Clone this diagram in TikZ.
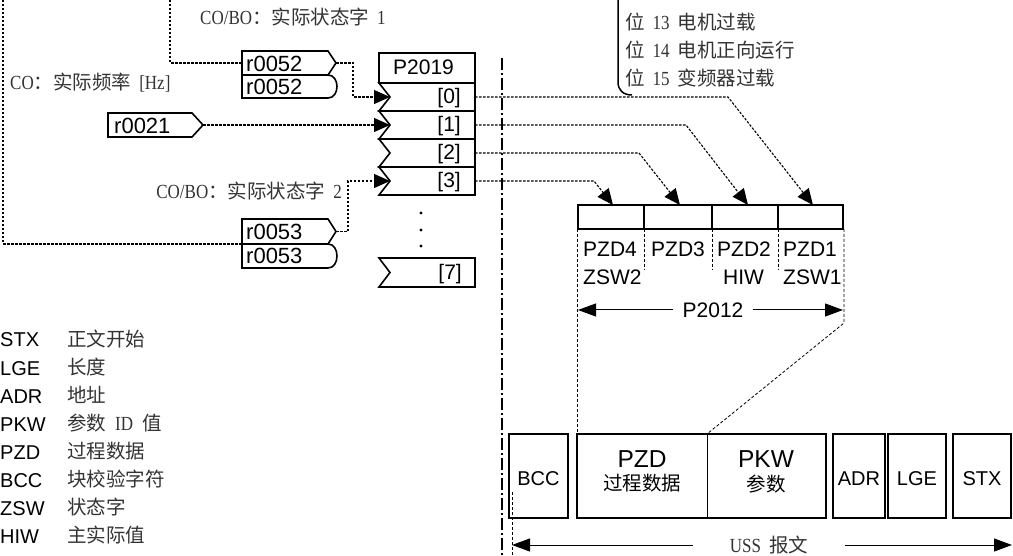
\documentclass[tikz,border=0pt]{standalone}
\usepackage{fontspec}
\setmainfont{Liberation Sans}
\newfontfamily\cjk{Noto Sans CJK SC}
\newfontfamily\serf{Liberation Serif}[FakeStretch=0.85]
\usetikzlibrary{arrows.meta}
\newcommand\lat[1]{{\serf\fontsize{20}{20}\selectfont #1}}
\begin{document}
\begin{tikzpicture}[x=1pt,y=-1pt,
  bx/.style={line width=1.6pt},
  conn/.style={line width=1.1pt, dash pattern=on 2.5pt off 1.5pt},
  thinline/.style={line width=0.8pt, dash pattern=on 3pt off 2pt},
  tipA/.style={-{Triangle[length=16pt,width=14pt]}},
  dimA/.style={line width=1pt,-{Triangle[length=18pt,width=13pt]}},
  lbl/.style={inner sep=0pt, font=\fontsize{21}{21}\selectfont},
  rlbl/.style={inner sep=0pt, font=\fontsize{22}{22}\selectfont},
  leg/.style={inner sep=0pt, font=\fontsize{20}{20}\selectfont},
  big/.style={inner sep=0pt, font=\fontsize{24.5}{25}\selectfont},
  zh/.style={inner sep=0pt, text=black!80, font=\fontsize{19.5}{20}\selectfont\cjk},
]
\useasboundingbox (0,0) rectangle (1013,556);

% ---------- dash-dot separator ----------
\coordinate (sepT) at (502,58);
\coordinate (sepB) at (502,556);
\draw[line width=1.2pt, dash pattern=on 12pt off 3pt on 2pt off 3pt] (sepT) -- (sepB);

% ---------- top labels ----------
\node[zh, anchor=base west] (lab1) at (200,25) {\lat{CO/BO}：实际状态字\hspace{8pt}\lat{1}};
\node[zh, anchor=base west] (lab0) at (10,90) {\lat{CO}：实际频率\hspace{8pt}\lat{[Hz]}};
\node[zh, anchor=base east] (lab2) at (342,199) {\lat{CO/BO}：实际状态字\hspace{8pt}\lat{2}};

% ---------- r0052 pair ----------
\draw[bx] (242,51) -- (328,51) -- (336,63) -- (328,75) -- (242,75) -- cycle;
\draw[bx] (242,75) -- (328,75) .. controls (340,75) and (340,98) .. (328,98) -- (242,98) -- cycle;
\node[rlbl, anchor=base west] (r52a) at (246,72) {r0052};
\node[rlbl, anchor=base west] (r52b) at (246,95) {r0052};
\coordinate (r52o) at (336,63);
\coordinate (r52w) at (242,63);

% ---------- r0021 ----------
\draw[bx] (108,113) -- (192,113) -- (203,125) -- (192,137) -- (108,137) -- cycle;
\node[rlbl, anchor=base west] (r21) at (114,134) {r0021};
\coordinate (r21o) at (203,125);

% ---------- r0053 pair ----------
\draw[bx] (242,219) -- (328,219) -- (336,231.5) -- (328,244) -- (242,244) -- cycle;
\draw[bx] (242,244) -- (328,244) .. controls (340,244) and (340,268) .. (328,268) -- (242,268) -- cycle;
\node[rlbl, anchor=base west] (r53a) at (246,240) {r0053};
\node[rlbl, anchor=base west] (r53b) at (246,264) {r0053};
\coordinate (r53o) at (336,231.5);
\coordinate (r53w) at (242,244);

% ---------- P2019 ----------
\draw[bx] (379,53) rectangle (475,83);
\node[lbl, anchor=base west] (p2019) at (393,75) {P2019};
\foreach \t/\b in {83/111,111/139,139/167,167/195,258/287}
  \draw[bx] (379,\t) -- (475,\t) -- (475,\b) -- (379,\b) -- (390,{(\t+\b)/2}) -- cycle;
\node[lbl, anchor=base east] (i0) at (461,104) {[0]};
\node[lbl, anchor=base east] (i1) at (461,132) {[1]};
\node[lbl, anchor=base east] (i2) at (461,160) {[2]};
\node[lbl, anchor=base east] (i3) at (461,188) {[3]};
\node[lbl, anchor=base east] (i7) at (462,280) {[7]};
\foreach \y in {213,230,246} \fill (421,\y) circle (1.6);
\coordinate (in0) at (390,97);
\coordinate (in1) at (390,125);
\coordinate (in3) at (390,181);
\coordinate (out0) at (475,97);
\coordinate (out1) at (475,125);
\coordinate (out2) at (475,153);
\coordinate (out3) at (475,181);

% ---------- input connectors ----------
\draw[conn] (3,0) |- (r53w);
\draw[conn] (170,0) |- (r52w);
\draw[conn,tipA] (r52o) -- ++(17,0) |- (in0);
\draw[conn,tipA] (r21o) -- (in1);
\draw[conn,tipA] (r53o) -- ++(12,0) |- (in3);

% ---------- status word bits ----------
\draw[line width=1.5pt] (618,0) -- (618,82) .. controls (618,90) and (623,95) .. (632,95);
\node[zh, anchor=base west] (b13) at (625,30) {位\hspace{8pt}\lat{13}\hspace{8pt}电机过载};
\node[zh, anchor=base west] (b14) at (625,58) {位\hspace{8pt}\lat{14}\hspace{8pt}电机正向运行};
\node[zh, anchor=base west] (b15) at (625,86) {位\hspace{8pt}\lat{15}\hspace{8pt}变频器过载};

% ---------- PZD slots ----------
\draw[bx] (578,205) rectangle (843,229);
\foreach \x in {644,712,778} \draw[bx] (\x,205) -- (\x,229);
\coordinate (z4) at (613,205);
\coordinate (z3) at (680,205);
\coordinate (z2) at (748,205);
\coordinate (z1) at (813,205);
\draw[conn,tipA] (out0) -- (728,97) -- (z1);
\draw[conn,tipA] (out1) -- (686,125) -- (z2);
\draw[conn,tipA] (out2) -- (639,153) -- (z3);
\draw[conn,tipA] (out3) -- (594,181) -- (z4);

\foreach \x in {644,712,778} \draw[thinline] (\x,229) -- (\x,270);
\node[lbl, anchor=base west] (pzd4) at (583,257) {PZD4};
\node[lbl, anchor=base west] (pzd3) at (651,257) {PZD3};
\node[lbl, anchor=base west] (pzd2) at (717,257) {PZD2};
\node[lbl, anchor=base west] (pzd1) at (783,257) {PZD1};
\node[lbl, anchor=base west] (zsw2) at (583,285) {ZSW2};
\node[lbl, anchor=base west] (hiw) at (723,285) {HIW};
\node[lbl, anchor=base west] (zsw1) at (783,285) {ZSW1};

% P2012 dimension
\node[lbl, inner xsep=9pt] (p2012) at (713,310) {P2012};
\coordinate (dL) at (578,310);
\coordinate (dR) at (843,310);
\draw[dimA] (p2012.west) -- (dL);
\draw[dimA] (p2012.east) -- (dR);

% ---------- telegram frame ----------
\draw[bx] (509,434) rectangle (568,518);
\draw[bx] (577,434) rectangle (826,518);
\draw[line width=1pt] (707,434) -- (707,518);
\draw[bx] (833,434) rectangle (885,518);
\draw[bx] (888,434) rectangle (946,518);
\draw[bx] (953,434) rectangle (1011,518);
\coordinate (fL) at (577,434);
\coordinate (fM) at (707,434);

\draw[thinline] (577,229) -- (fL);
\draw[thinline] (844,229) -- (844,323) -- (fM);

\node[leg, anchor=base] (bcc) at (538.5,485) {BCC};
\node[big, anchor=base] (pzd) at (642,467) {PZD};
\node[zh, text=black] (pzdz) at (642,483) {过程数据};
\node[big, anchor=base] (pkw) at (766,467) {PKW};
\node[zh, text=black] (pkwz) at (766,484) {参数};
\node[leg, anchor=base] (adr) at (859,485) {ADR};
\node[leg, anchor=base] (lge) at (917,485) {LGE};
\node[leg, anchor=base] (stx) at (982,485) {STX};

% USS telegram dimension
\draw[thinline] (512,492) -- (512,556);
\node[zh, inner xsep=37pt] (uss) at (769,545) {\lat{USS}\hspace{8pt}报文};
\coordinate (uL) at (512,545);
\coordinate (uR) at (1012,545);
\draw[dimA] (uss.west) -- (uL);
\draw[dimA] (uss.east) -- (uR);

% ---------- legend ----------
\node[leg, anchor=base west] (l1) at (0,347) {STX};
\node[leg, anchor=base west] (l2) at (0,375) {LGE};
\node[leg, anchor=base west] (l3) at (0,403) {ADR};
\node[leg, anchor=base west] (l4) at (0,431) {PKW};
\node[leg, anchor=base west] (l5) at (0,459) {PZD};
\node[leg, anchor=base west] (l6) at (0,487) {BCC};
\node[leg, anchor=base west] (l7) at (0,515) {ZSW};
\node[leg, anchor=base west] (l8) at (0,543) {HIW};
\node[zh, anchor=base west] (c1) at (67,346) {正文开始};
\node[zh, anchor=base west] (c2) at (67,374) {长度};
\node[zh, anchor=base west] (c3) at (67,402) {地址};
\node[zh, anchor=base west] (c4) at (67,430) {参数\hspace{9pt}\lat{ID}\hspace{9pt}值};
\node[zh, anchor=base west] (c5) at (67,458) {过程数据};
\node[zh, anchor=base west] (c6) at (67,486) {块校验字符};
\node[zh, anchor=base west] (c7) at (67,514) {状态字};
\node[zh, anchor=base west] (c8) at (67,542) {主实际值};
\end{tikzpicture}
\end{document}
